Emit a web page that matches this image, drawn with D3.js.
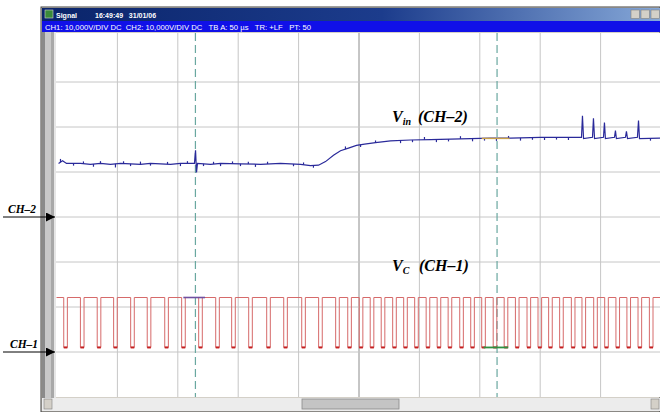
<!DOCTYPE html>
<html>
<head>
<meta charset="utf-8">
<script src="https://cdn.jsdelivr.net/npm/d3@7"></script>
<style>
  body { margin: 0; background: #fff; }
  svg { display: block; }
  text { white-space: pre; }
</style>
</head>
<body>
<svg id="chart" width="660" height="412"></svg>
<script>
// time base: 50 us/div, 10 divisions
var gridT = [50, 100, 150, 200, 250, 300, 350, 400, 450];
var gridDiv = [-3, -2, -1, 0, 1, 2, 3];

// CH2 : Vin (volts, 10 V/div)
var vinT = [1.7, 5.0, 8.3, 19.9, 28.1, 36.4, 44.7, 53.0, 61.3, 69.5, 77.8, 86.1, 94.4, 102.6,
  114.2, 115.1, 115.9, 116.7, 127.5, 135.8, 152.3, 168.9, 185.4, 202.0, 210.3, 216.9, 222.7,
  229.3, 235.1, 241.7, 248.3, 255.0, 264.1, 276.5, 293.0, 309.6, 326.2, 342.7, 359.3, 375.8,
  400.7, 434.6, 435.4, 436.3, 443.7, 444.5, 445.4, 452.8, 453.6, 454.4, 461.9, 462.7, 463.5,
  471.0, 471.8, 472.7, 480.9, 481.8, 482.6, 500];
var vinV = [11.8, 12.4, 11.8, 11.8, 11.6, 11.8, 11.6, 11.8, 11.7, 11.6, 11.8, 11.7, 11.6, 11.8,
  11.8, 14.7, 9.8, 11.8, 11.6, 11.8, 11.7, 11.6, 11.8, 11.6, 11.3, 11.4, 12.2,
  13.6, 14.6, 15.2, 15.8, 16.1, 16.4, 16.8, 17.0, 17.1, 17.2, 17.3, 17.4, 17.4,
  17.6, 17.6, 22.4, 17.3, 17.6, 21.8, 17.3, 17.6, 20.9, 17.3, 17.6, 19.1, 17.3,
  17.6, 18.9, 17.3, 17.6, 21.3, 17.3, 17.4];

// small glitches riding on Vin (time us, size V)
var glitchT = [3.3, 14.1, 22.3, 30.6, 36.4, 48.8, 55.5, 61.3, 69.5, 77.8, 91.9, 102.6, 108.4,
  121.7, 130.0, 135.8, 145.7, 152.3, 158.8, 164.7, 174.7, 196.2, 204.5, 212.7, 239.2, 251.7,
  264.1, 284.8, 294.7, 304.6, 314.5, 324.5, 334.4, 344.4, 354.3, 364.2, 374.2, 384.1, 394.0,
  404.0, 413.9, 423.8, 491.7];
var glitchV = [0.7, -0.5, 0.5, -0.6, 0.5, -0.8, 0.5, -0.5, 0.6, -0.5, 0.5, -0.6, 0.5,
  -0.5, 0.5, -0.6, 0.5, -0.5, 0.5, -0.6, 0.5, -0.5, 0.5, -0.5, 0.6, -0.5,
  0.5, -0.6, -0.5, 0.6, -0.6, -0.5, 0.6, -0.6, -0.5, -0.6, 0.5, -0.6, -0.5,
  -0.6, -0.5, -0.6, -0.5];

// CH1 : Vc gate pulses - centre of each low interval (us)
var vcLowT = [7.5, 21.3, 35.2, 48.8, 62.9, 76.6, 91.1, 105.1, 119.2, 133.3, 146.5, 160.6,
  175.5, 189.6, 204.5, 218.5, 232.6, 242.6, 252.1, 261.2, 270.3, 279.8, 288.9, 298.0,
  307.5, 316.6, 325.7, 335.3, 344.4, 353.5, 363.0, 372.1, 381.4, 391.0, 400.1, 408.9,
  418.0, 427.7, 436.5, 446.2, 455.3, 464.6, 473.7, 482.9, 492.3];
var vcHigh = 12.0, vcLow = 0.9, vcLowDur = 3.0;

var cursorT = [115, 364.7];

var svg = d3.select("#chart");

// window chrome
var defs = svg.append("defs");
var grad = defs.append("linearGradient").attr("id", "title");
grad.append("stop").attr("offset", "0%").attr("stop-color", "#0a246a");
grad.append("stop").attr("offset", "55%").attr("stop-color", "#1c3c8c");
grad.append("stop").attr("offset", "100%").attr("stop-color", "#86a8d8");

defs.append("marker")
    .attr("id", "arrow")
    .attr("viewBox", "0 0 10 10")
    .attr("refX", 10).attr("refY", 5)
    .attr("markerWidth", 11).attr("markerHeight", 9)
    .attr("markerUnits", "userSpaceOnUse")
    .attr("orient", "auto")
  .append("path")
    .attr("d", "M0,0L10,5L0,10z")
    .attr("fill", "#000");

svg.append("rect").attr("x", 41).attr("y", 7).attr("width", 619).attr("height", 405).attr("fill", "#d4d0c8");
svg.append("rect").attr("x", 41).attr("y", 7).attr("width", 619).attr("height", 405)
    .attr("fill", "none").attr("stroke", "#404040").attr("stroke-width", 1);
svg.append("rect").attr("x", 42).attr("y", 8).attr("width", 618).attr("height", 13).attr("fill", "url(#title)");
svg.append("rect").attr("x", 42).attr("y", 21).attr("width", 618).attr("height", 11).attr("fill", "#1010e8");

svg.append("rect").attr("x", 45).attr("y", 10).attr("width", 8).attr("height", 8).attr("fill", "#3a8a3a").attr("stroke", "#cfcfcf").attr("stroke-width", 0.6);
svg.append("text").attr("x", 56).attr("y", 18).attr("fill", "#fff")
    .style("font", "bold 7px 'Liberation Sans', Arial, sans-serif")
    .text("Signal");
svg.append("text").attr("x", 95).attr("y", 18).attr("fill", "#fff")
    .style("font", "bold 7px 'Liberation Sans', Arial, sans-serif")
    .text("16:49:49   31/01/06");
svg.append("text").attr("x", 45).attr("y", 29.5).attr("fill", "#fff")
    .attr("textLength", 266).attr("lengthAdjust", "spacingAndGlyphs")
    .style("font", "6.5px 'Liberation Sans', Arial, sans-serif")
    .text("CH1: 10,000V/DIV DC  CH2: 10,000V/DIV DC   TB A: 50 µs   TR: +LF   PT: 50");

[631, 641, 651].forEach(function(bx) {
  svg.append("rect").attr("x", bx).attr("y", 10).attr("width", 8.5).attr("height", 8.5)
      .attr("fill", "#d4d0c8").attr("stroke", "#808080").attr("stroke-width", 0.6);
});

// left strip
svg.append("rect").attr("x", 42).attr("y", 32).attr("width", 3).attr("height", 366).attr("fill", "#8a8a8a");
svg.append("rect").attr("x", 45).attr("y", 32).attr("width", 6).attr("height", 366).attr("fill", "#c8c8c8");
svg.append("rect").attr("x", 51).attr("y", 32).attr("width", 3).attr("height", 366).attr("fill", "#a8a8a8");
svg.append("rect").attr("x", 54).attr("y", 32).attr("width", 2).attr("height", 366).attr("fill", "#e6e6e6");

// plot area
var plot = {left: 56, top: 33, right: 660, bottom: 397};
svg.append("rect").attr("x", plot.left).attr("y", plot.top)
    .attr("width", plot.right - plot.left).attr("height", plot.bottom - plot.top).attr("fill", "#fff");

// scrollbar
svg.append("rect").attr("x", 42).attr("y", 398).attr("width", 618).attr("height", 13).attr("fill", "#ececec");
svg.append("rect").attr("x", 302).attr("y", 399).attr("width", 97).attr("height", 10)
    .attr("fill", "#c4c4c4").attr("stroke", "#8a8a8a").attr("stroke-width", 0.8);
[44, 651].forEach(function(bx) {
  svg.append("rect").attr("x", bx).attr("y", 399).attr("width", 8).attr("height", 10)
      .attr("fill", "#d4d0c8").attr("stroke", "#808080").attr("stroke-width", 0.6);
});

var x = d3.scaleLinear().domain([0, 500]).range([56.5, 660.5]);
var y = d3.scaleLinear().domain([-4, 4]).range([396.5, 36.5]);
var ch1 = function(v) { return y(v / 10 - 3); };
var ch2 = function(v) { return y(v / 10); };

// grid from axes
var gx = svg.append("g")
    .attr("transform", "translate(0," + plot.bottom + ")")
    .call(d3.axisBottom(x).tickValues(gridT).tickSize(-(plot.bottom - plot.top)).tickFormat(""));
var gy = svg.append("g")
    .attr("transform", "translate(" + plot.left + ",0)")
    .call(d3.axisLeft(y).tickValues(gridDiv).tickSize(-(plot.right - plot.left)).tickFormat(""));
svg.selectAll(".domain").remove();
svg.selectAll(".tick line").attr("stroke", "#c6c6c6").attr("stroke-width", 1);
gx.selectAll(".tick line").filter(function(d) { return d === 250; }).attr("stroke", "#8c8c8c");

// cursors
svg.selectAll(".cursor")
    .data(cursorT)
  .enter().append("line")
    .attr("class", "cursor")
    .attr("x1", function(d) { return x(d); })
    .attr("x2", function(d) { return x(d); })
    .attr("y1", plot.top).attr("y2", plot.bottom)
    .attr("stroke", "#6aa8a0").attr("stroke-width", 1.2)
    .attr("stroke-dasharray", "8,4");

// Vc square wave
var vcPts = [[0, vcHigh]];
vcLowT.forEach(function(c) {
  vcPts.push([c - vcLowDur / 2, vcHigh], [c - vcLowDur / 2, vcLow], [c + vcLowDur / 2, vcLow], [c + vcLowDur / 2, vcHigh]);
});
vcPts.push([500, vcHigh]);

svg.append("path")
    .datum(vcPts)
    .attr("fill", "none")
    .attr("stroke", "#d66a6a")
    .attr("stroke-width", 1)
    .attr("d", d3.line().x(function(d) { return x(d[0]); }).y(function(d) { return ch1(d[1]); }));

svg.selectAll(".vclow")
    .data(vcLowT)
  .enter().append("line")
    .attr("class", "vclow")
    .attr("x1", function(d) { return x(d - vcLowDur / 2); })
    .attr("x2", function(d) { return x(d + vcLowDur / 2); })
    .attr("y1", ch1(vcLow)).attr("y2", ch1(vcLow))
    .attr("stroke", "#c42020").attr("stroke-width", 2);

// cursor measurement segments
svg.append("line").attr("x1", x(105)).attr("x2", x(123)).attr("y1", ch1(vcHigh)).attr("y2", ch1(vcHigh))
    .attr("stroke", "#7050a0").attr("stroke-width", 1.6);
svg.append("line").attr("x1", x(353.5)).attr("x2", x(374)).attr("y1", ch1(vcLow)).attr("y2", ch1(vcLow))
    .attr("stroke", "#309040").attr("stroke-width", 1.8);

// Vin trace
var vinPts = vinT.map(function(t, i) { return [t, vinV[i]]; });
var vinAt = d3.scaleLinear().domain(vinT).range(vinV);
svg.append("path")
    .datum(vinPts)
    .attr("fill", "none")
    .attr("stroke", "#2a2a9a")
    .attr("stroke-width", 1.2)
    .attr("d", d3.line().x(function(d) { return x(d[0]); }).y(function(d) { return ch2(d[1]); }));
svg.selectAll(".glitch")
    .data(glitchT)
  .enter().append("line")
    .attr("class", "glitch")
    .attr("x1", function(d) { return x(d); })
    .attr("x2", function(d) { return x(d); })
    .attr("y1", function(d) { return ch2(vinAt(d)); })
    .attr("y2", function(d, i) { return ch2(vinAt(d) + glitchV[i]); })
    .attr("stroke", "#2a2a9a").attr("stroke-width", 1.2);
svg.append("line").attr("x1", x(352)).attr("x2", x(375)).attr("y1", ch2(17.35)).attr("y2", ch2(17.35))
    .attr("stroke", "#c8a048").attr("stroke-width", 1.4);

// annotations
var serif = "bold italic 12px 'Liberation Serif', 'Times New Roman', serif";
svg.append("text").attr("x", 8).attr("y", 213).style("font", serif).style("font-size", "11.5px").text("CH–2");
svg.append("text").attr("x", 10).attr("y", 348).style("font", serif).style("font-size", "11.5px").text("CH–1");
svg.append("line").attr("x1", 3).attr("x2", 55).attr("y1", 217).attr("y2", 217)
    .attr("stroke", "#000").attr("stroke-width", 1).attr("marker-end", "url(#arrow)");
svg.append("line").attr("x1", 3).attr("x2", 55).attr("y1", 352).attr("y2", 352)
    .attr("stroke", "#000").attr("stroke-width", 1).attr("marker-end", "url(#arrow)");

var vinLab = svg.append("text").attr("x", 392).attr("y", 122).style("font", serif).style("font-size", "16px");
vinLab.append("tspan").text("V");
vinLab.append("tspan").attr("dy", 3).style("font-size", "10px").text("in");
vinLab.append("tspan").attr("x", 418).attr("dy", -3).text("(CH–2)");

var vcLab = svg.append("text").attr("x", 392).attr("y", 271).style("font", serif).style("font-size", "16px");
vcLab.append("tspan").text("V");
vcLab.append("tspan").attr("dy", 3).style("font-size", "10px").text("C");
vcLab.append("tspan").attr("x", 419).attr("dy", -3).text("(CH–1)");
</script>
</body>
</html>
